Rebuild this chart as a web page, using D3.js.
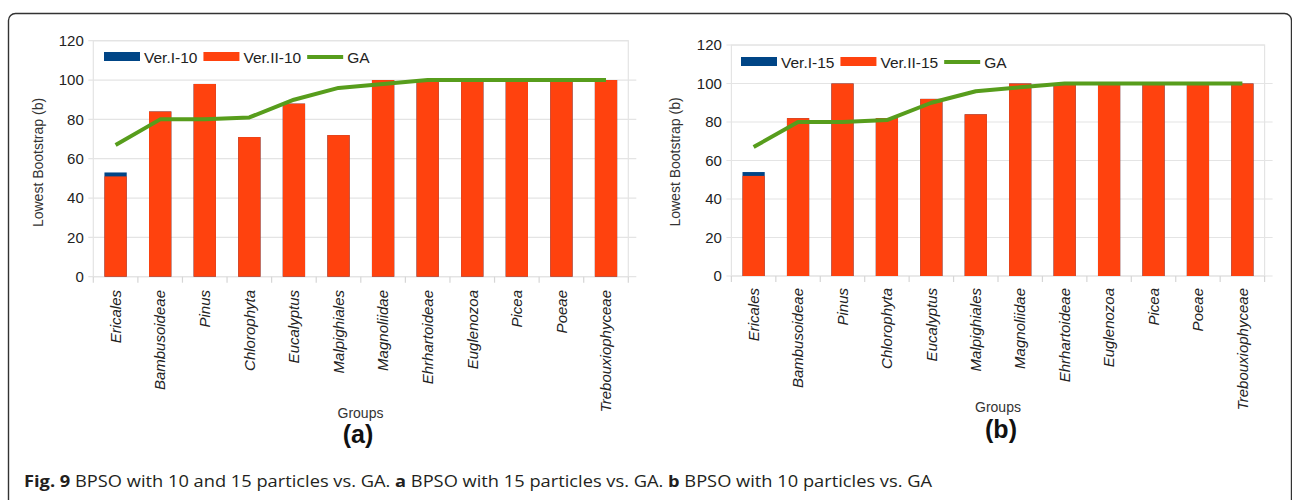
<!DOCTYPE html>
<html>
<head>
<meta charset="utf-8">
<script src="https://cdn.jsdelivr.net/npm/d3@7"></script>
<style>
  html, body { margin: 0; padding: 0; background: #fff; }
  svg { display: block; }
</style>
</head>
<body>
<svg id="fig" width="1292" height="500"></svg>
<script>
// ---- data ----
const categories = ["Ericales", "Bambusoideae", "Pinus", "Chlorophyta", "Eucalyptus", "Malpighiales",
  "Magnoliidae", "Ehrhartoideae", "Euglenozoa", "Picea", "Poeae", "Trebouxiophyceae"];

const verI10  = [53, 84, 98, 71, 88, 72, 100, 100, 100, 100, 100, 100];
const verII10 = [51, 84, 98, 71, 88, 72, 100, 100, 100, 100, 100, 100];

const verI15  = [54, 82, 100, 82, 92, 84, 100, 100, 100, 100, 100, 100];
const verII15 = [52, 82, 100, 82, 92, 84, 100, 100, 100, 100, 100, 100];

const gaValues = [67, 80, 80, 81, 90, 96, 98, 100, 100, 100, 100, 100];

const yTicks = [0, 20, 40, 60, 80, 100, 120];

const seriesNames10 = ["Ver.I-10", "Ver.II-10", "GA"];
const seriesNames15 = ["Ver.I-15", "Ver.II-15", "GA"];

const yTitle = "Lowest Bootstrap (b)";
const xTitle = "Groups";

// ---- styling ----
const BLUE = "#004586", ORANGE = "#ff420e", GREEN = "#579d1c";
const GRID = "#e4e4e4", TEXT = "#222";
const SANS = "'Liberation Sans', Arial, sans-serif";

// ---- layout of the two panels ----
const panels = [
  { letter: "(a)", names: seriesNames10, back: verI10, front: verII10,
    left: 93.3, right: 628.3, top: 40.7, bottom: 276.7,
    legendX: 104, legendY: 52, yTitleX: 43, yTitleY: 162.5,
    xLabelY: 290, groupsX: 360.5, groupsY: 418, letterX: 358, letterY: 443 },
  { letter: "(b)", names: seriesNames15, back: verI15, front: verII15,
    left: 731.4, right: 1264.6, top: 45, bottom: 276,
    legendX: 741, legendY: 57, yTitleX: 680, yTitleY: 162,
    xLabelY: 288, groupsX: 998, groupsY: 412, letterX: 1001, letterY: 438 }
];

const svg = d3.select("#fig");

// outer rounded frame (continues past the bottom/right edge)
svg.append("rect")
  .attr("x", 8.5).attr("y", 13.5)
  .attr("width", 1283).attr("height", 600)
  .attr("rx", 7).attr("ry", 7)
  .attr("fill", "none").attr("stroke", "#333").attr("stroke-width", 1.4);

panels.forEach(p => {
  const g = svg.append("g");

  const x = d3.scaleBand()
    .domain(categories)
    .range([p.left, p.right])
    .paddingInner(0.5)
    .paddingOuter(0.25);

  const y = d3.scaleLinear()
    .domain([0, 120])
    .range([p.bottom, p.top]);

  const step = x.step();
  const cx = c => x(c) + x.bandwidth() / 2;

  // horizontal grid lines with short outside ticks
  g.append("g").selectAll("line")
    .data(yTicks)
    .join("line")
    .attr("x1", p.left - 5)
    .attr("x2", d => d === 120 ? p.right : p.right + 8)
    .attr("y1", d => y(d)).attr("y2", d => y(d))
    .attr("stroke", GRID).attr("stroke-width", 1.2);

  // plot-area border
  g.append("rect")
    .attr("x", p.left).attr("y", y(120))
    .attr("width", p.right - p.left).attr("height", y(0) - y(120))
    .attr("fill", "none").attr("stroke", GRID).attr("stroke-width", 1.2);

  // category separator ticks below the baseline
  g.append("g").selectAll("line")
    .data(d3.range(categories.length + 1))
    .join("line")
    .attr("x1", i => p.left + i * step).attr("x2", i => p.left + i * step)
    .attr("y1", y(0)).attr("y2", y(0) + 6)
    .attr("stroke", "#d6d6d6").attr("stroke-width", 1.2);

  // y axis labels
  const yAxis = d3.axisLeft(y).tickValues(yTicks).tickSize(0).tickPadding(0);
  const ya = g.append("g")
    .attr("transform", `translate(${p.left - 9.5},0)`)
    .call(yAxis);
  ya.select(".domain").remove();
  ya.selectAll("text")
    .attr("font-family", SANS).attr("font-size", 15).attr("fill", TEXT);

  // back series (Ver.I) drawn first, front series (Ver.II) overlaid
  g.append("g").selectAll("rect")
    .data(categories.map((c, i) => ({ c, v: p.back[i] })))
    .join("rect")
    .attr("x", d => x(d.c)).attr("width", x.bandwidth())
    .attr("y", d => y(d.v)).attr("height", d => y(0) - y(d.v))
    .attr("fill", BLUE);

  g.append("g").selectAll("rect")
    .data(categories.map((c, i) => ({ c, v: p.front[i] })))
    .join("rect")
    .attr("x", d => x(d.c)).attr("width", x.bandwidth())
    .attr("y", d => y(d.v)).attr("height", d => y(0) - y(d.v))
    .attr("fill", ORANGE);

  // GA line
  const line = d3.line()
    .x((d, i) => cx(categories[i]))
    .y(d => y(d));
  g.append("path")
    .datum(gaValues)
    .attr("d", line)
    .attr("fill", "none").attr("stroke", GREEN)
    .attr("stroke-width", 4).attr("stroke-linejoin", "round");

  // rotated category labels
  g.append("g").selectAll("text")
    .data(categories)
    .join("text")
    .attr("transform", d => `translate(${cx(d)},${p.xLabelY}) rotate(-90)`)
    .attr("dy", "0.35em")
    .attr("text-anchor", "end")
    .attr("font-family", SANS).attr("font-style", "italic")
    .attr("font-size", 15).attr("fill", TEXT)
    .text(d => d);

  // axis titles
  g.append("text")
    .attr("transform", `translate(${p.yTitleX},${p.yTitleY}) rotate(-90)`)
    .attr("text-anchor", "middle")
    .attr("font-family", SANS).attr("font-size", 14).attr("fill", "#333")
    .text(yTitle);

  g.append("text")
    .attr("x", p.groupsX).attr("y", p.groupsY)
    .attr("text-anchor", "middle")
    .attr("font-family", SANS).attr("font-size", 14).attr("fill", "#333")
    .text(xTitle);

  g.append("text")
    .attr("x", p.letterX).attr("y", p.letterY)
    .attr("text-anchor", "middle")
    .attr("font-family", SANS).attr("font-weight", "bold")
    .attr("font-size", 25).attr("fill", "#111")
    .text(p.letter);

  // legend
  const lg = g.append("g");
  let lx = p.legendX;
  const colors = [BLUE, ORANGE, GREEN];
  p.names.forEach((name, i) => {
    if (i < 2) {
      lg.append("rect")
        .attr("x", lx).attr("y", p.legendY)
        .attr("width", 36).attr("height", 9)
        .attr("fill", colors[i]);
    } else {
      lg.append("line")
        .attr("x1", lx).attr("x2", lx + 36)
        .attr("y1", p.legendY + 5).attr("y2", p.legendY + 5)
        .attr("stroke", colors[i]).attr("stroke-width", 4);
    }
    const t = lg.append("text")
      .attr("x", lx + 40).attr("y", p.legendY + 10.5)
      .attr("font-family", SANS).attr("font-size", 15.5).attr("fill", TEXT)
      .text(name);
    lx += 40 + t.node().getComputedTextLength() + 6;
  });
});

// figure caption
const cap = svg.append("text")
  .attr("x", 24).attr("y", 487)
  .attr("font-family", "'Open Sans', 'Noto Sans', sans-serif")
  .attr("font-size", 16.5).attr("fill", "#231f20")
  .attr("textLength", 908).attr("lengthAdjust", "spacingAndGlyphs");
[
  ["Fig. 9", true], [" BPSO with 10 and 15 particles vs. GA. ", false],
  ["a", true], [" BPSO with 15 particles vs. GA. ", false],
  ["b", true], [" BPSO with 10 particles vs. GA", false]
].forEach(([s, bold]) => {
  cap.append("tspan").attr("font-weight", bold ? "bold" : "normal").text(s);
});
</script>
</body>
</html>
